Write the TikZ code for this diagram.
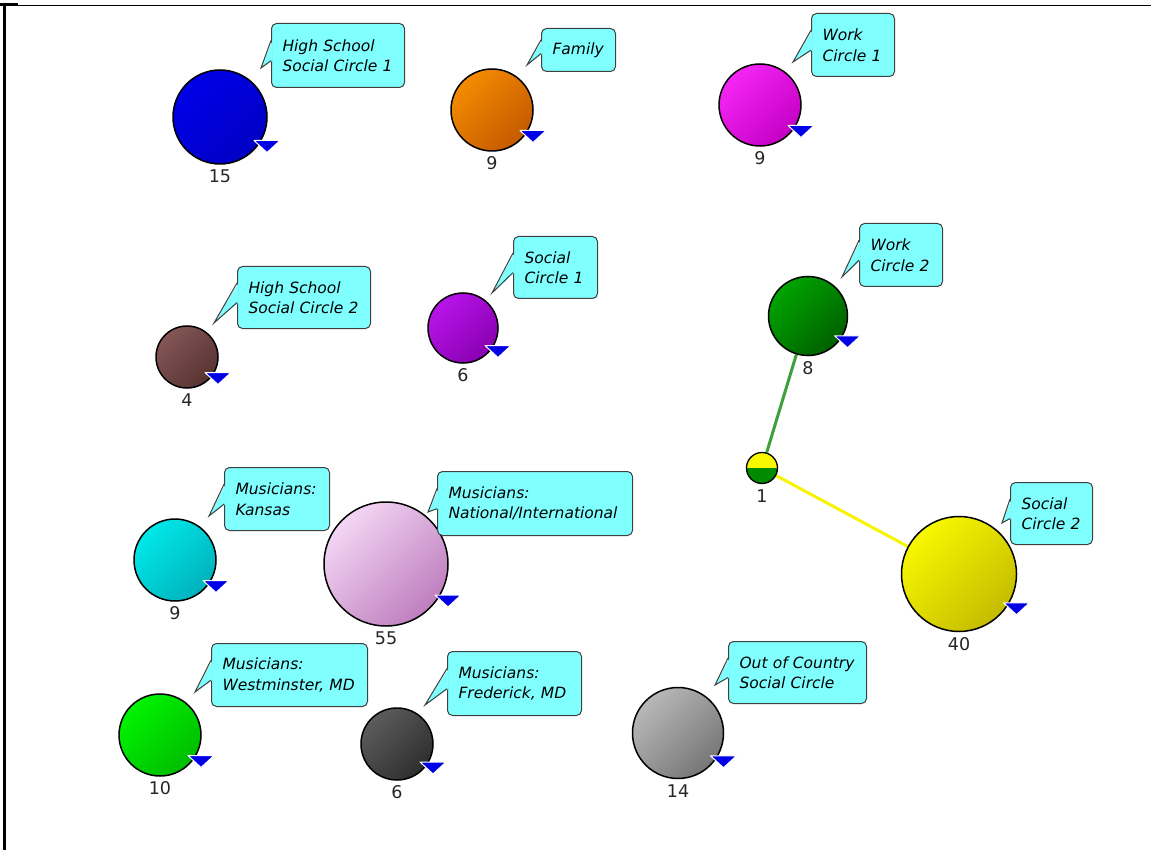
\documentclass[tikz,border=0pt]{standalone}
\usepackage{fontspec}
\setmainfont{DejaVu Sans}
\usetikzlibrary{calc,backgrounds}
\definecolor{cyanf}{HTML}{80FFFF}
\definecolor{triblue}{HTML}{0000E6}
\definecolor{blueL}{HTML}{0000E8}\definecolor{blueD}{HTML}{0000C4}
\definecolor{orangeL}{HTML}{F58C00}\definecolor{orangeD}{HTML}{C45A00}
\definecolor{magL}{HTML}{F526F5}\definecolor{magD}{HTML}{C400C4}
\definecolor{brownL}{HTML}{845656}\definecolor{brownD}{HTML}{583232}
\definecolor{purpL}{HTML}{B814EA}\definecolor{purpD}{HTML}{8800B0}
\definecolor{grnAL}{HTML}{00A400}\definecolor{grnAD}{HTML}{006000}
\definecolor{yelL}{HTML}{F8F800}\definecolor{yelD}{HTML}{C4BC00}
\definecolor{cyaL}{HTML}{00E8E8}\definecolor{cyaD}{HTML}{00B2BC}
\definecolor{pinkL}{HTML}{F4D6F4}\definecolor{pinkD}{HTML}{BE7EBE}
\definecolor{grnBL}{HTML}{00F400}\definecolor{grnBD}{HTML}{00BC00}
\definecolor{dgrL}{HTML}{5C5C5C}\definecolor{dgrD}{HTML}{2E2E2E}
\definecolor{grL}{HTML}{B8B8B8}\definecolor{grD}{HTML}{767676}
\definecolor{edgeG}{HTML}{3CA03C}
\definecolor{edgeY}{HTML}{F8F400}
\definecolor{halfY}{HTML}{F8F800}
\definecolor{halfG}{HTML}{008A00}
\newcommand\calfont{\fontsize{15.5}{20.5}\selectfont\itshape}
\newcommand\numfont{\fontsize{17.5}{19}\selectfont}
\tikzset{
  grp/.style args={#1/#2}{circle, draw=black, line width=1.5pt, inner sep=0pt,
    top color=#1, bottom color=#2, shading angle=45},
  cbox/.style={draw=black!75, fill=cyanf, rounded corners=5pt, line width=1pt,
    anchor=north west, align=left, inner xsep=11pt, inner ysep=0pt, font=\calfont, text=black},
  cline/.style={draw=black!75, line width=1pt},
  num/.style={font=\numfont, text=black!85, inner sep=0pt, anchor=north},
  tristyle/.style={fill=triblue, draw=white, line width=1pt, line join=round},
  edgeline/.style={line width=3pt}
}
% name, x, y, r, light, dark, number
\newcommand\grpnode[7]{%
  \node[grp={#5/#6}, minimum size={2*#4pt}] (#1) at (#2,#3) {};
  \node[num] (#1n) at ($(#1.south)+(0,5)$) {#7};
  \filldraw[tristyle] ($(#1.center)+(#4-13,0.5*#4)$) -- ++(26,0) -- ++(-13,12) -- cycle;
}
% name, left, top, w, h, tipx, tipy, text
\newcommand\callbox[8]{%
  \pgfmathsetmacro\tw{#4-22}%
  \node[cbox, minimum width=#4pt, minimum height=#5pt, text width=\tw pt] (#1) at (#2,#3) {#8};
  \coordinate (#1t) at (#6,#7);
  \fill[cyanf] ($(#1.north west)!0.27!(#1.south west)+(1.5,0)$) -- (#1t) -- ($(#1.north west)!0.58!(#1.south west)+(1.5,0)$) -- cycle;
  \draw[cline, line join=miter] ($(#1.north west)!0.27!(#1.south west)$) -- (#1t) -- ($(#1.north west)!0.58!(#1.south west)$);
}
\begin{document}
\begin{tikzpicture}[x=1pt,y=-1pt]
\useasboundingbox (0,0) rectangle (1151,850);
% frame
\draw[line width=1.5pt] (0,5.5) -- (1151,5.5);
\draw[line width=3pt] (0,5) -- (18,5);
\draw[line width=3pt] (4.5,4) -- (4.5,850);

% group nodes
\grpnode{hs1}{220}{117}{47}{blueL}{blueD}{15}
\grpnode{fam}{492}{110}{41}{orangeL}{orangeD}{9}
\grpnode{wc1}{760}{105}{41}{magL}{magD}{9}
\grpnode{hs2}{187}{357}{31}{brownL}{brownD}{4}
\grpnode{sc1}{463}{328}{35}{purpL}{purpD}{6}
\grpnode{wc2}{808}{316}{39.5}{grnAL}{grnAD}{8}
\grpnode{sc2}{959}{574}{57.5}{yelL}{yelD}{40}
\grpnode{mka}{175}{560}{41}{cyaL}{cyaD}{9}
\grpnode{mni}{386}{564}{62}{pinkL}{pinkD}{55}
\grpnode{mwe}{160}{735}{41}{grnBL}{grnBD}{10}
\grpnode{mfr}{397}{744}{36}{dgrL}{dgrD}{6}
\grpnode{occ}{678}{733}{45.5}{grL}{grD}{14}

% small split node
\coordinate (onec) at (762,468);
\begin{scope}
  \clip (onec) circle[radius=15.5pt];
  \fill[halfY] ($(onec)+(-20,-20)$) rectangle ($(onec)+(20,0)$);
  \fill[halfG] ($(onec)+(-20,0)$) rectangle ($(onec)+(20,20)$);
\end{scope}
\node[circle, draw=black, line width=1.3pt, minimum size=31pt, inner sep=0pt] (one) at (onec) {};
\node[num] (onen) at ($(one.south)+(0,5)$) {1};

\begin{scope}[on background layer]
  \fill[white] (0,0) rectangle (1151,850);
  \draw[edgeline, edgeG] (one) -- (wc2);
  \draw[edgeline, edgeY] (one) -- (sc2);
\end{scope}

% callouts
\callbox{c1}{271}{23}{133}{64}{261}{68}{High School\\Social Circle 1}
\callbox{c2}{541}{28}{74}{43}{527}{65}{Family}
\callbox{c3}{811}{13}{83}{63}{793}{62}{Work\\Circle 1}
\callbox{c4}{237}{266}{133}{62}{214}{323}{High School\\Social Circle 2}
\callbox{c5}{513}{236}{84}{62}{492}{293}{Social\\Circle 1}
\callbox{c6}{859}{223}{83}{63}{842}{277}{Work\\Circle 2}
\callbox{c7}{1010}{482}{82}{62}{1002}{523}{Social\\Circle 2}
\callbox{c8}{224}{467}{105}{63}{209}{516}{Musicians:\\Kansas}
\callbox{c9}{437}{471}{195}{64}{428}{512}{Musicians:\\National/International}
\callbox{c10}{211}{643}{156}{63}{195}{692}{Musicians:\\Westminster, MD}
\callbox{c11}{447}{651}{134}{64}{425}{705}{Musicians:\\Frederick, MD}
\callbox{c12}{728}{641}{138}{62}{715}{685}{Out of Country\\Social Circle}
\end{tikzpicture}
\end{document}
